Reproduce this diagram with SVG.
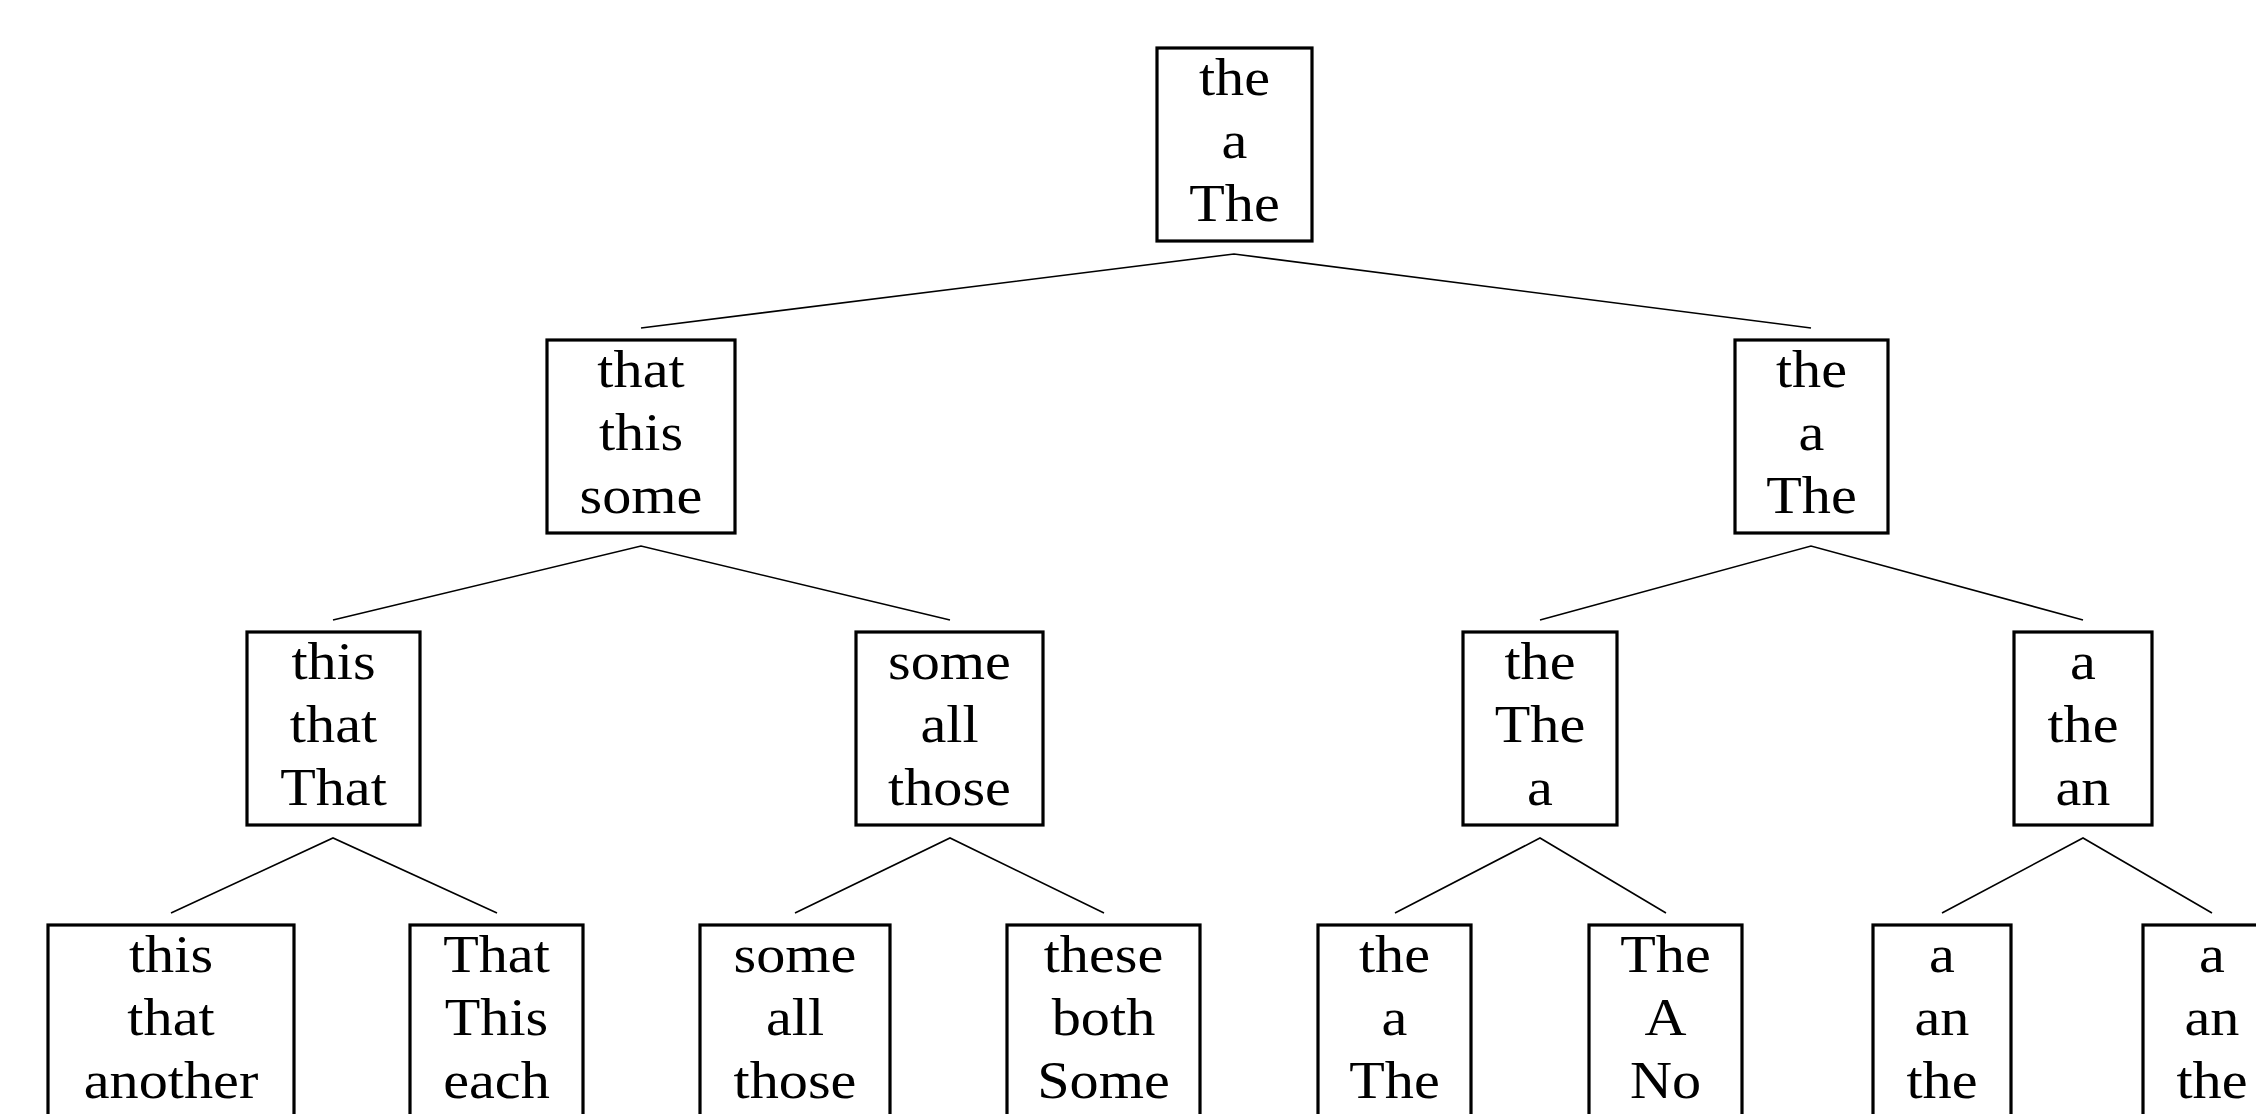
<svg xmlns="http://www.w3.org/2000/svg" width="2256" height="1114" viewBox="0 0 2256 1114">
  <style>
    .box { fill: #ffffff; stroke: #000000; stroke-width: 3.2; }
    .lbl { font-family: "Liberation Serif", "Times New Roman", serif; font-size: 52px; text-anchor: middle; fill: #000000; }
    .edge { stroke: #000000; stroke-width: 1.6; fill: none; }
  </style>
  <rect width="2256" height="1114" fill="#ffffff"/>

  <!-- connectors: each parent fans out from just below its box to just above its children -->
  <g id="connectors" class="edge">
    <polyline points="641,328 1234,254 1811,328"/>
    <polyline points="333,620 641,546 950,620"/>
    <polyline points="1540,620 1811,546 2083,620"/>
    <polyline points="171,913 333,838 497,913"/>
    <polyline points="795,913 950,838 1104,913"/>
    <polyline points="1395,913 1540,838 1666,913"/>
    <polyline points="1942,913 2083,838 2212,913"/>
  </g>

  <!-- level 0 -->
  <g id="n0">
    <rect class="box" x="1157" y="48" width="155" height="193"/>
    <g transform="translate(1234.5 0) scale(1.12 1)" class="lbl">
      <text y="95">the</text><text y="158">a</text><text y="221">The</text>
    </g>
  </g>

  <!-- level 1 -->
  <g id="n1">
    <rect class="box" x="547" y="340" width="188" height="193"/>
    <g transform="translate(641 0) scale(1.12 1)" class="lbl">
      <text y="387">that</text><text y="450">this</text><text y="513">some</text>
    </g>
  </g>
  <g id="n2">
    <rect class="box" x="1735" y="340" width="153" height="193"/>
    <g transform="translate(1811.5 0) scale(1.12 1)" class="lbl">
      <text y="387">the</text><text y="450">a</text><text y="513">The</text>
    </g>
  </g>

  <!-- level 2 -->
  <g id="n3">
    <rect class="box" x="247" y="632" width="173" height="193"/>
    <g transform="translate(333.5 0) scale(1.12 1)" class="lbl">
      <text y="679">this</text><text y="742">that</text><text y="805">That</text>
    </g>
  </g>
  <g id="n4">
    <rect class="box" x="856" y="632" width="187" height="193"/>
    <g transform="translate(949.5 0) scale(1.12 1)" class="lbl">
      <text y="679">some</text><text y="742">all</text><text y="805">those</text>
    </g>
  </g>
  <g id="n5">
    <rect class="box" x="1463" y="632" width="154" height="193"/>
    <g transform="translate(1540 0) scale(1.12 1)" class="lbl">
      <text y="679">the</text><text y="742">The</text><text y="805">a</text>
    </g>
  </g>
  <g id="n6">
    <rect class="box" x="2014" y="632" width="138" height="193"/>
    <g transform="translate(2083 0) scale(1.12 1)" class="lbl">
      <text y="679">a</text><text y="742">the</text><text y="805">an</text>
    </g>
  </g>

  <!-- level 3 -->
  <g id="n7">
    <rect class="box" x="48" y="925" width="246" height="193"/>
    <g transform="translate(171 0) scale(1.12 1)" class="lbl">
      <text y="972">this</text><text y="1035">that</text><text y="1098">another</text>
    </g>
  </g>
  <g id="n8">
    <rect class="box" x="410" y="925" width="173" height="193"/>
    <g transform="translate(496.5 0) scale(1.12 1)" class="lbl">
      <text y="972">That</text><text y="1035">This</text><text y="1098">each</text>
    </g>
  </g>
  <g id="n9">
    <rect class="box" x="700" y="925" width="190" height="193"/>
    <g transform="translate(795 0) scale(1.12 1)" class="lbl">
      <text y="972">some</text><text y="1035">all</text><text y="1098">those</text>
    </g>
  </g>
  <g id="n10">
    <rect class="box" x="1007" y="925" width="193" height="193"/>
    <g transform="translate(1103.5 0) scale(1.12 1)" class="lbl">
      <text y="972">these</text><text y="1035">both</text><text y="1098">Some</text>
    </g>
  </g>
  <g id="n11">
    <rect class="box" x="1318" y="925" width="153" height="193"/>
    <g transform="translate(1394.5 0) scale(1.12 1)" class="lbl">
      <text y="972">the</text><text y="1035">a</text><text y="1098">The</text>
    </g>
  </g>
  <g id="n12">
    <rect class="box" x="1589" y="925" width="153" height="193"/>
    <g transform="translate(1665.5 0) scale(1.12 1)" class="lbl">
      <text y="972">The</text><text y="1035">A</text><text y="1098">No</text>
    </g>
  </g>
  <g id="n13">
    <rect class="box" x="1873" y="925" width="138" height="193"/>
    <g transform="translate(1942 0) scale(1.12 1)" class="lbl">
      <text y="972">a</text><text y="1035">an</text><text y="1098">the</text>
    </g>
  </g>
  <g id="n14">
    <rect class="box" x="2143" y="925" width="138" height="193"/>
    <g transform="translate(2212 0) scale(1.12 1)" class="lbl">
      <text y="972">a</text><text y="1035">an</text><text y="1098">the</text>
    </g>
  </g>
</svg>
